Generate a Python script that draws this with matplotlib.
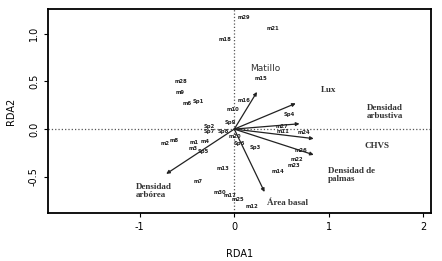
import matplotlib
matplotlib.use("Agg")
import matplotlib.pyplot as plt

# site / species scores (RDA1, RDA2)
site_labels = ["m29", "m21", "m18", "m15", "m28", "m9", "m6", "Sp1", "m16", "m10",
               "Sp4", "m27", "m11", "m24", "m26", "m22", "m23", "m14", "Sp3", "m20",
               "Sp6", "Sp2", "Sp7", "Sp8", "Sp9", "m2", "m8", "m1", "m4", "m3", "Sp5",
               "m13", "m7", "m30", "m17", "m25", "m12"]
site_x = [0.10, 0.41, -0.10, 0.28, -0.56, -0.57, -0.50, -0.38, 0.10, -0.01,
          0.58, 0.50, 0.52, 0.74, 0.71, 0.66, 0.63, 0.46, 0.22, 0.01,
          0.05, -0.26, -0.26, -0.12, -0.04, -0.73, -0.64, -0.42, -0.31, -0.44, -0.33,
          -0.12, -0.38, -0.15, -0.04, 0.04, 0.19]
site_y = [1.17, 1.06, 0.94, 0.53, 0.50, 0.38, 0.27, 0.29, 0.30, 0.21,
          0.15, 0.03, -0.02, -0.04, -0.22, -0.32, -0.38, -0.45, -0.19, -0.08,
          -0.15, 0.03, -0.03, -0.02, 0.07, -0.15, -0.12, -0.14, -0.13, -0.20, -0.24,
          -0.41, -0.55, -0.66, -0.70, -0.74, -0.81]

# environmental vectors
env_x = [0.24, 0.65, 0.69, 0.84, 0.84, 0.32, -0.72]
env_y = [0.39, 0.27, 0.056, -0.10, -0.27, -0.66, -0.47]

# environmental labels and their positions
env_labels = ["Matillo", "Lux", "Densidad\narbustiva", "CHVS",
              "Densidad de\npalmas", "Área basal", "Densidad\narbórea"]
lab_x = [0.33, 1.00, 1.59, 1.51, 0.99, 0.35, -1.04]
lab_y = [0.64, 0.41, 0.18, -0.18, -0.48, -0.78, -0.65]
lab_ha = ["center", "center", "center", "center", "left", "left", "left"]

fig = plt.figure(figsize=(4.42, 2.61), dpi=100)
ax = fig.add_axes([0.1086, 0.184, 0.8664, 0.7815])

ax.axhline(0, color="#555555", linestyle=":", linewidth=0.9)
ax.axvline(0, color="#555555", linestyle=":", linewidth=0.9)

for lab, x, y in zip(site_labels, site_x, site_y):
    ax.text(x, y, lab, fontsize=3.8, ha="center", va="center", color="#222222",
            fontweight="bold")

for x, y in zip(env_x, env_y):
    ax.annotate("", xy=(x, y), xytext=(0, 0),
                arrowprops=dict(arrowstyle="-|>", color="#222222", lw=0.9,
                                mutation_scale=5, shrinkA=0, shrinkB=0))

for lab, x, y, ha in zip(env_labels, lab_x, lab_y, lab_ha):
    if lab == "Matillo":
        ax.text(x, y, lab, fontsize=6.5, ha=ha, va="center", color="#333333")
    else:
        ax.text(x, y, lab, fontsize=6.5, ha=ha, va="center", color="#333333",
                family="Liberation Serif", fontweight="bold", linespacing=1.0)

ax.set_xlim(-1.97, 2.08)
ax.set_ylim(-0.88, 1.26)
ax.set_xticks([-1, 0, 1, 2])
ax.set_xticklabels(["-1", "0", "1", "2"])
ax.set_yticks([-0.5, 0.0, 0.5, 1.0])
ax.set_yticklabels(["-0.5", "0.0", "0.5", "1.0"], rotation=90, va="center")
ax.tick_params(labelsize=7, length=3, width=0.8, direction="out")
for s in ax.spines.values():
    s.set_linewidth(1.3)

ax.set_xlabel("RDA1", fontsize=7, labelpad=12)
ax.set_ylabel("RDA2", fontsize=7, labelpad=9)

fig.savefig("out.png", dpi=100)
